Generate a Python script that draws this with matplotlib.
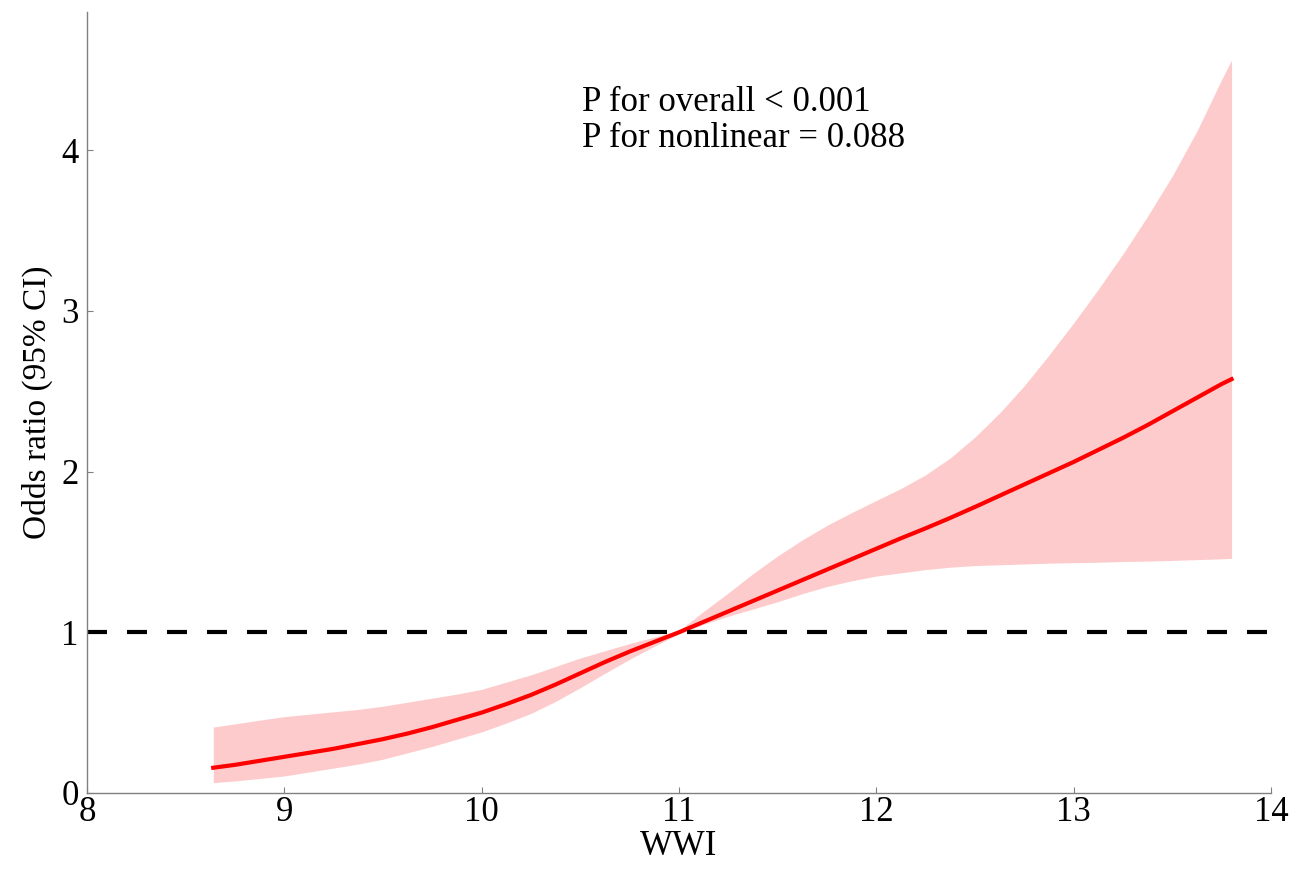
import numpy as np
import matplotlib
matplotlib.use("Agg")
import matplotlib.pyplot as plt

plt.rcParams['font.family'] = ['Liberation Serif', 'DejaVu Serif']

# WWI grid and spline estimates
wwi = [8.64, 8.75, 8.875, 9.0, 9.125, 9.25, 9.375, 9.5, 9.625, 9.75, 9.875,
       10.0, 10.125, 10.25, 10.375, 10.5, 10.625, 10.75, 10.875, 11.0,
       11.125, 11.25, 11.375, 11.5, 11.625, 11.75, 11.875, 12.0, 12.125,
       12.25, 12.375, 12.5, 12.625, 12.75, 12.875, 13.0, 13.125, 13.25,
       13.375, 13.5, 13.625, 13.75, 13.8]
odds = [0.157, 0.175, 0.20, 0.225, 0.25, 0.275, 0.305, 0.335, 0.37, 0.41, 0.455,
        0.50, 0.553, 0.61, 0.675, 0.745, 0.815, 0.88, 0.94, 1.0,
        1.065, 1.13, 1.195, 1.26, 1.325, 1.39, 1.455, 1.52, 1.585,
        1.647, 1.712, 1.78, 1.85, 1.92, 1.99, 2.06, 2.135, 2.21,
        2.29, 2.375, 2.46, 2.545, 2.575]
upper = [0.41, 0.43, 0.453, 0.475, 0.49, 0.505, 0.52, 0.54, 0.565, 0.59, 0.615,
         0.645, 0.69, 0.735, 0.787, 0.84, 0.885, 0.93, 0.97, 1.01,
         1.13, 1.245, 1.365, 1.475, 1.575, 1.665, 1.745, 1.82, 1.895,
         1.98, 2.085, 2.215, 2.365, 2.535, 2.725, 2.925, 3.135, 3.355,
         3.59, 3.84, 4.12, 4.44, 4.56]
lower = [0.064, 0.075, 0.09, 0.106, 0.13, 0.155, 0.18, 0.21, 0.25, 0.29, 0.335,
         0.38, 0.435, 0.495, 0.57, 0.655, 0.745, 0.832, 0.913, 0.99,
         1.05, 1.10, 1.145, 1.19, 1.24, 1.285, 1.32, 1.35, 1.37,
         1.39, 1.405, 1.415, 1.42, 1.425, 1.43, 1.433, 1.436, 1.44,
         1.443, 1.447, 1.452, 1.457, 1.46]

p_lines = ["P for overall < 0.001", "P for nonlinear = 0.088"]

fig = plt.figure(figsize=(13.04, 8.69), dpi=100)
ax = fig.add_axes([0.0667, 0.0875, 0.908, 0.8987])

ax.fill_between(wwi, lower, upper, color='#fdcbcb', linewidth=0)
ax.plot(wwi, odds, color='red', linewidth=3)
ax.axhline(1, color='black', linewidth=3, linestyle=(0, (4.8, 4.8)))

ax.text(10.51, 4.244, p_lines[0], fontsize=25, va='baseline', ha='left')
ax.text(10.51, 4.02, p_lines[1], fontsize=25, va='baseline', ha='left')

ax.set_xlim(8, 14)
ax.set_ylim(0, 4.86)
ax.set_xticks([8, 9, 10, 11, 12, 13, 14])
ax.set_yticks([0, 1, 2, 3, 4])
ax.set_xlabel("WWI", fontsize=25, labelpad=1)
ax.set_ylabel("Odds ratio (95% CI)", fontsize=24, labelpad=6)

for s in ['top', 'right']:
    ax.spines[s].set_visible(False)
for s in ['left', 'bottom']:
    ax.spines[s].set_color('#808080')
    ax.spines[s].set_linewidth(1)
ax.tick_params(labelsize=25, length=4, direction='in', color='#808080')
ax.tick_params(axis='x', pad=2)
ax.tick_params(axis='y', pad=6)

fig.savefig("out.png", dpi=100)
